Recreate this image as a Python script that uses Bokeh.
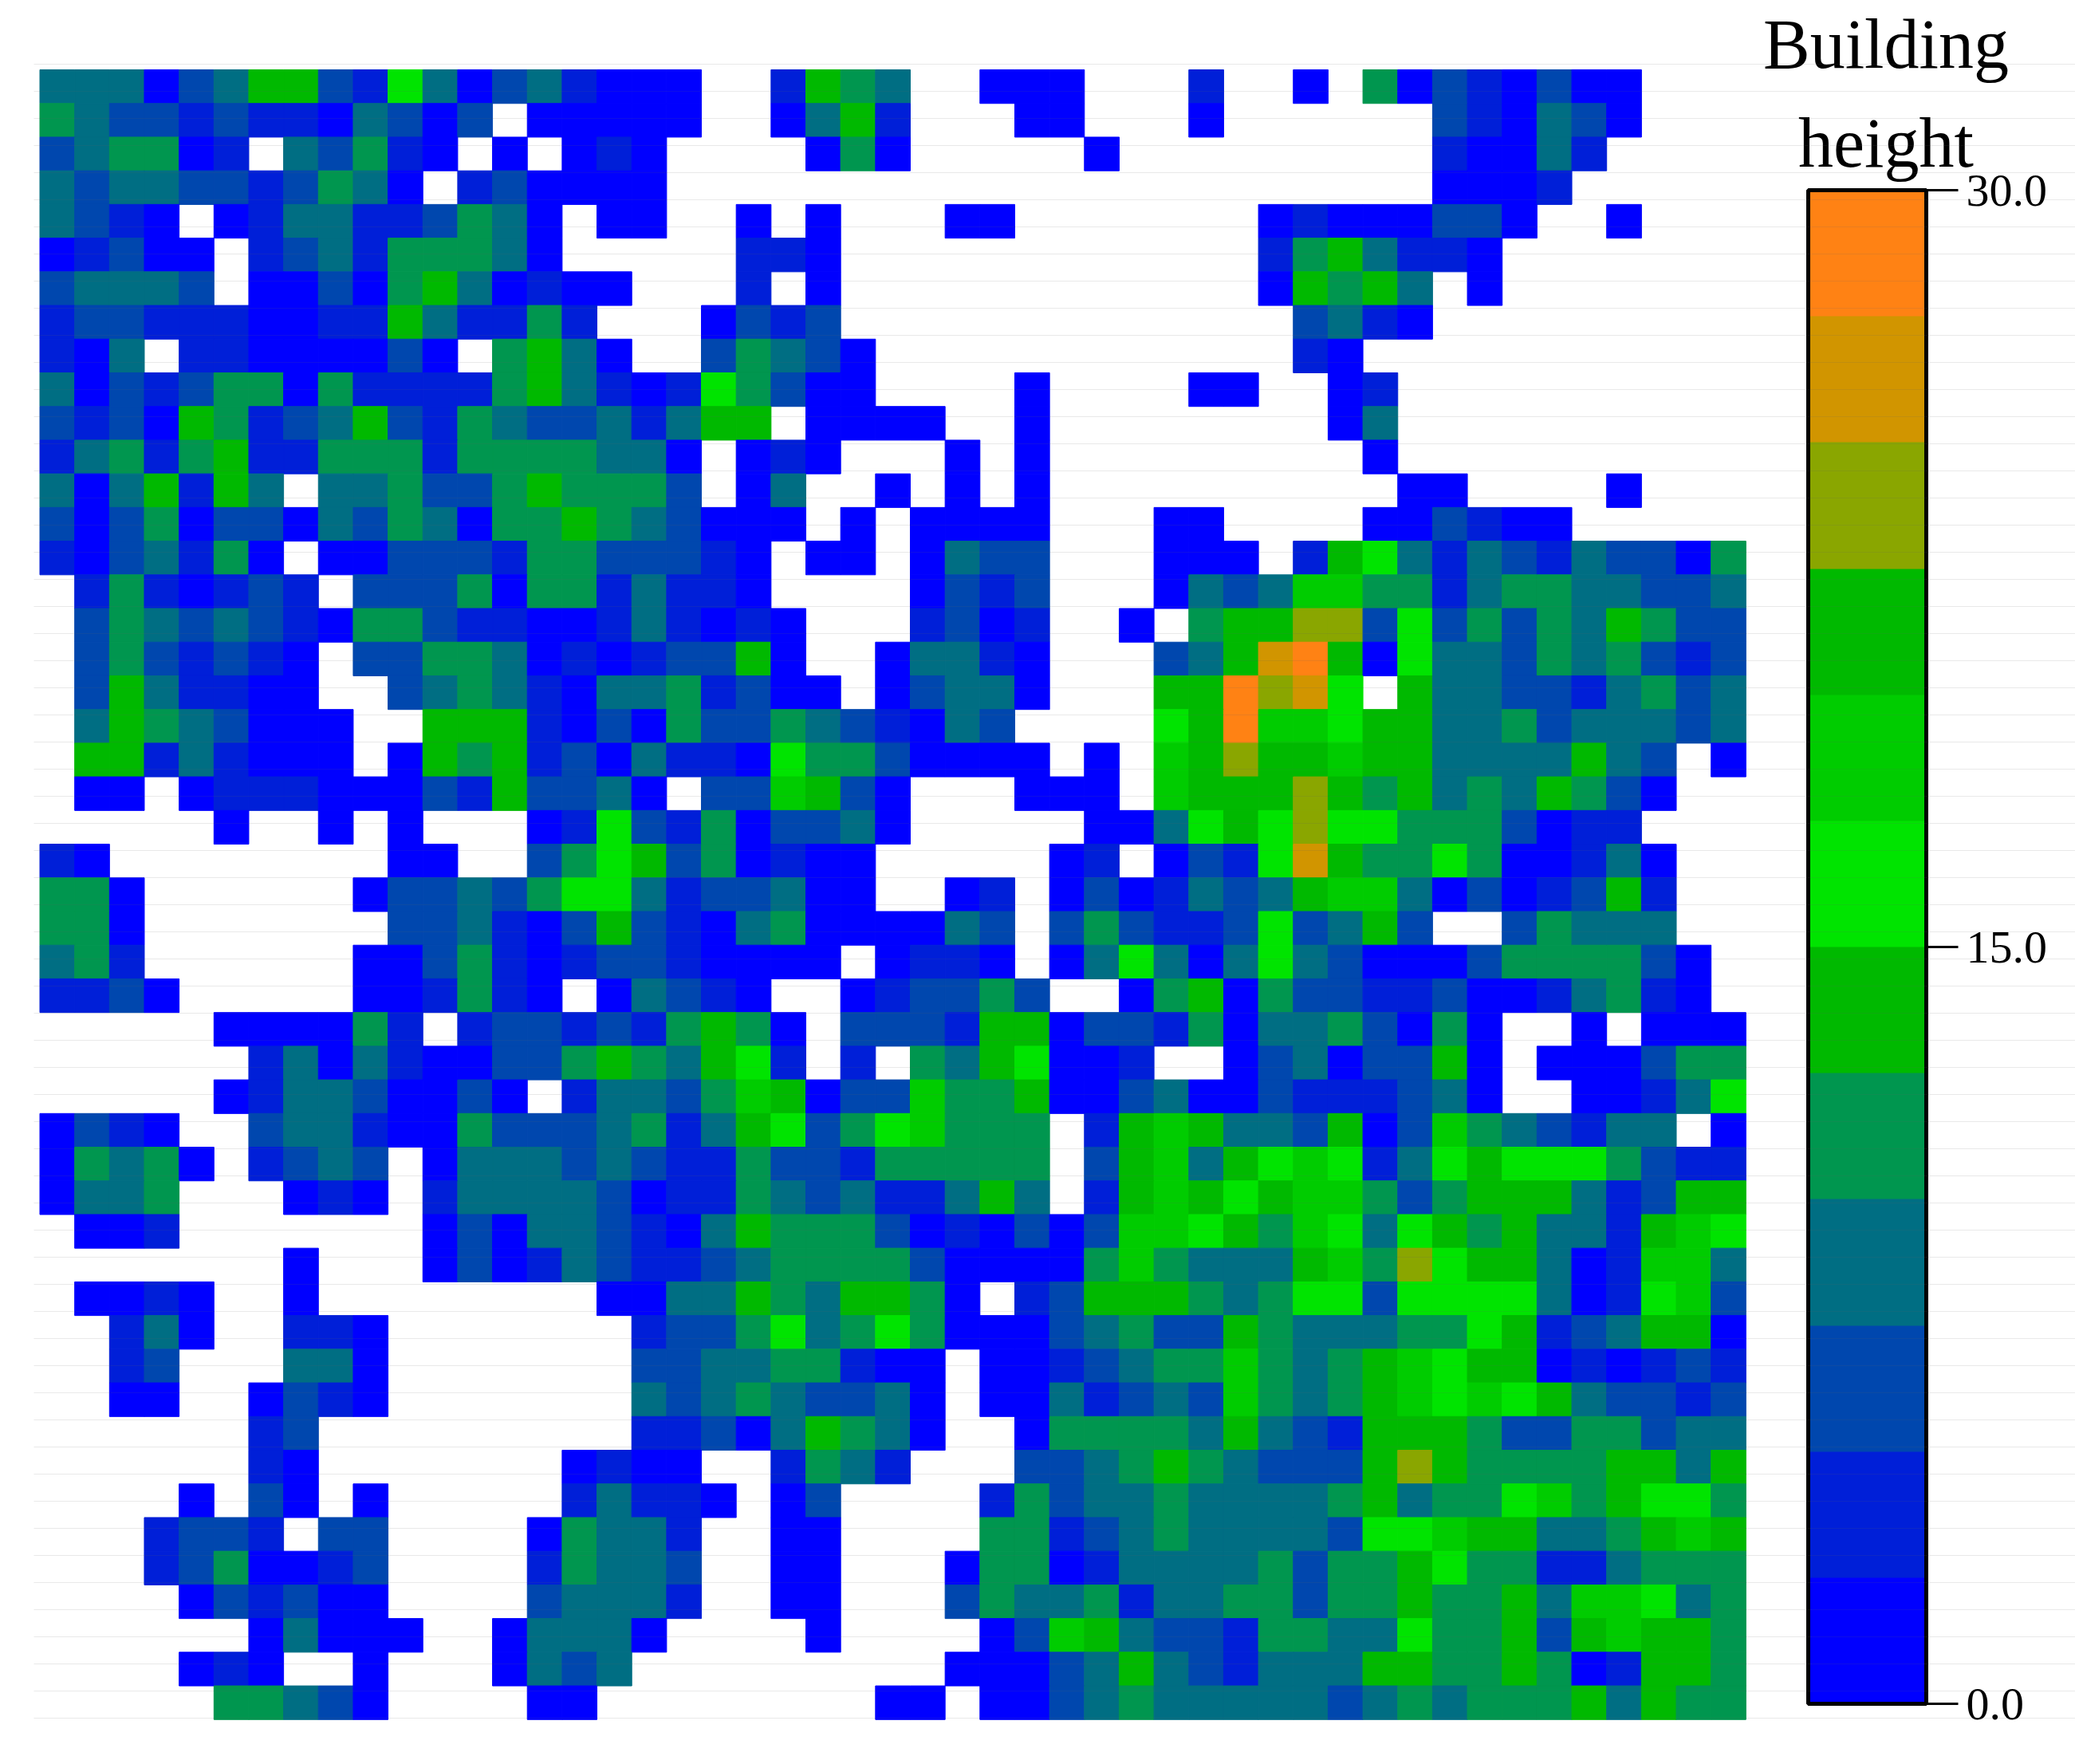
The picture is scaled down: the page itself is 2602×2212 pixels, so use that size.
from bokeh.plotting import figure
from bokeh.models import ColumnDataSource, LinearColorMapper, ColorBar, FixedTicker, Label, Range1d, PrintfTickFormatter
from bokeh.transform import transform
from bokeh.embed import file_html
from bokeh.resources import INLINE

# Building height classes, 12 bands of 2.5 m from 0 to 30.  '.' = no building.
band_palette = ["#0000ff", "#001fd8", "#0047ae", "#006e83", "#00964f", "#00b900",
                "#00e400", "#00cc00", "#00b900", "#8aa600", "#d19500", "#ff8214"]
band_width = 2.5
colorbar_ticks = [0, 15, 30]
title_lines = ["Building", "height"]

band_rows = [
    "33302355216302310" "00..1543..000..." "1..0.40210200...",
    "4322121103202.000" "00..0351...00..." "0......210320...",
    "234401.32410.0.01" "0....040.....0.." ".......10031....",
    "32332212430.12000" "0..............." ".......0001.....",
    "3210.0133112430.0" "0..0.0...00....." "..01000220..0...",
    "01200.123144430.." "...110.........." "..1453110.......",
    "23332.00204530100" "...1.0.........." "..05453.0.......",
    "1221110011531141." "..0212.........." "...2310.........",
    "103.11000020.4530" "..24320........." "...10...........",
    "30212440411114531" "0164200....0...." "00..01..........",
    "21205412352143223" "1355.0000..0...." "....03..........",
    "13414511444144443" "30.010...0.0...." ".....0..........",
    "3035153.334224544" "42.03..0.0.0...." "......00....0...",
    "20240220324304454" "32000.0.0000...0" "0....002100.....",
    "1023140.002221442" "2210.00.0322...0" "00.1563132132204",
    ".1410121.22240441" "3110....0212...0" "3237744134433223",
    ".2432321044211001" "31010...1201..0." "4559926242435422",
    ".2421210.22443010" "12250..03310...2" "35ab506332434212",
    ".2531100..2343103" "341200.02330...5" "5b9a6.5332213423",
    ".35432000..555102" "04224321032....6" "5b77655334233323",
    ".55131000.0545120" "311064420000.0.7" "59557553333532.0",
    ".00.0111000215223" "0.227520...000.7" "55595453435420..",
    ".....0..0.0...016" "21402230.....003" "6569664442011...",
    "10........00..246" "5240100.....01.0" "216a5446400130..",
    "440......02232466" "3122300..01.0201" "32357730201251..",
    "440.......2231025" "21034000032.2421" "1262352..24333..",
    "341......00241012" "210000.0110.0363" "036320002444420.",
    "1120.....001410.0" "3210..012242..04" "504221120013410.",
    ".....000041.12212" "14540.2221550221" "403342040..0.000",
    "......13031002245" "43561.1.4356001." ".02302250.000244",
    ".....013320020.13" "3247502274450023" "002111230..00136",
    "0210..23310042223" "413562467444.157" "53325027432133.0",
    "04340.1232.033323" "211422144444.257" "3567613656664211",
    "0334...010.133332" "011432311353.157" "5657742455531255",
    ".001.......020332" "1035444201020277" "6547636545331576",
    ".......0...020132" "1123444420000474" "3335749655301773",
    ".0010..0........0" "0335435540.12555" "4346626666301672",
    "..130..110......." "1224634640002342" "2543334465123550",
    "..12...330......." "223344100.001234" "4743457655010121",
    "..00..0210......." "323432230.003123" "2743457676532212",
    "......12........." "112035430..04444" "3532155542244233",
    "......10.......01" "00..1431...22345" "4322259544445535",
    "....0.20.0.....13" "110.02....142334" "3333453446745664",
    "...1221.22....043" "31..00....441234" "3333266755334575",
    "...1240012....143" "32..00...0440133" "3342445644113444",
    "....021200....233" "31..00...2433413" "3442445445377634",
    "......03000..0333" "0....0....027532" "2144336445257554",
    "....010..0...0323" ".........0002353" "2133355445401554",
    ".....44320....00." ".......00.002343" "3333234344453544",
]

# ---- layout: one data unit is one map cell, rows counted downwards
W, H = 2602, 2200
ORIGIN = 0  # where the figure's corner lands in the picture
CELL_W, CELL_H = 43.66, 42.22
MAP_LEFT, MAP_TOP = 49.5, 87.0


def data_x(px):
    return (px - MAP_LEFT) / CELL_W


def data_y(py):
    return (py - MAP_TOP) / CELL_H


p = figure(width=W, height=H, output_backend="svg", toolbar_location=None,
           x_range=Range1d(data_x(ORIGIN), data_x(ORIGIN + W)),
           y_range=Range1d(data_y(ORIGIN + H), data_y(ORIGIN)),
           min_border=0, outline_line_color=None,
           background_fill_color="white", border_fill_color="white")
p.axis.visible = False
p.grid.visible = False

cols, rows, heights = [], [], []
for r, line in enumerate(band_rows):
    for c, ch in enumerate(line):
        if ch != ".":
            cols.append(c)
            rows.append(r)
            heights.append((int(ch, 16) + 0.5) * band_width)

source = ColumnDataSource(dict(
    left=cols, right=[c + 1 for c in cols],
    top=rows, bottom=[r + 1 for r in rows], height=heights))

mapper = LinearColorMapper(palette=band_palette, low=0, high=30)
p.quad(left="left", right="right", top="top", bottom="bottom", source=source,
       fill_color=transform("height", mapper),
       line_color=transform("height", mapper), line_width=1)

# faint horizontal rules, drawn over everything
rule_y = [data_y(80 + 34 * i) for i in range(62)]
p.segment(x0=[data_x(42)] * len(rule_y), x1=[data_x(ORIGIN + W)] * len(rule_y),
          y0=rule_y, y1=rule_y, line_color="#666666", line_alpha=0.14,
          line_width=1.2, level="overlay")

bar = ColorBar(color_mapper=mapper, location=(2267 - ORIGIN, ORIGIN + H - 2136),
               width=148, height=1898, padding=0, margin=0,
               ticker=FixedTicker(ticks=colorbar_ticks),
               formatter=PrintfTickFormatter(format="%.1f"),
               major_label_text_font="Liberation Serif",
               major_label_text_font_size="58px",
               major_label_text_color="black",
               major_tick_in=0, major_tick_out=40,
               major_tick_line_color="black", major_tick_line_width=3,
               minor_tick_line_color=None,
               bar_line_color="black", bar_line_width=5,
               label_standoff=10,
               border_line_color=None, background_fill_alpha=0)
p.add_layout(bar, "center")

for text, base in zip(title_lines, [55, 179]):
    p.add_layout(Label(x=data_x(2364.5), y=data_y(base), text=text,
                       text_font="Liberation Serif", text_font_size="88px",
                       text_color="black", text_align="center",
                       text_baseline="alphabetic"))

open("out.html", "w").write(file_html(p, INLINE))
